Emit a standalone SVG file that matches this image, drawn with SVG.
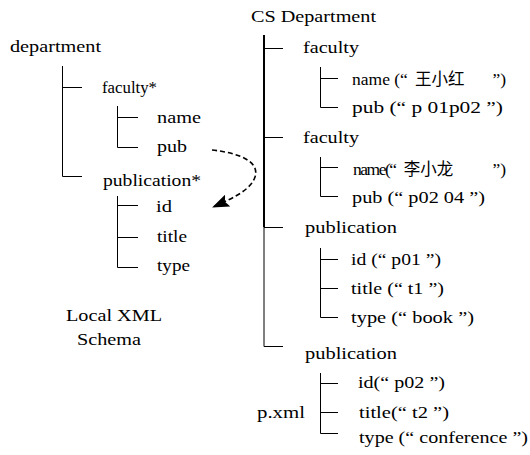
<svg xmlns="http://www.w3.org/2000/svg" width="530" height="455" viewBox="0 0 530 455">
<style>
  .t { font-family: "Liberation Serif", "Times New Roman", serif; font-size: 17.5px; fill: #000; }
  .cjk { font-family: "Noto Sans CJK SC", "Noto Sans", sans-serif; font-size: 16.5px; }
  .ln { stroke: #000; stroke-width: 1; fill: none; }
  .main { stroke: #000; stroke-width: 2; fill: none; }
  .dash { stroke: #000; stroke-width: 1.6; fill: none; stroke-dasharray: 5 3; }
</style>
<defs>
  <marker id="ah" markerWidth="17" markerHeight="13" refX="16" refY="6.5" orient="auto" markerUnits="userSpaceOnUse" viewBox="0 0 17 13">
    <path d="M0,0 L17,6.5 L0,13 L3,6.5 Z" fill="#000"/>
  </marker>
</defs>

<g id="connectors">
  <path class="ln" d="M62.5,66 V176.5 M62.5,87.5 H82 M62.5,176.5 H82"/>
  <path class="ln" d="M117.5,106 V147.5 M117.5,117.5 H138 M117.5,147.5 H138"/>
  <path class="ln" d="M117.5,196 V267.5 M117.5,205.5 H138 M117.5,237.5 H138 M117.5,267.5 H138"/>
  <path class="dash" d="M212,150 C240,153 260,162 255,177 C251,189 236,197 213,207" marker-end="url(#ah)"/>
  <path class="main" d="M264,35 V227"/>
  <path class="ln" d="M264,227 V346.5"/>
  <path class="ln" d="M264,48.5 H283 M264,137.5 H283 M264,227.5 H283 M264,346.5 H283"/>
  <path class="ln" d="M320.5,67 V107.5 M320.5,78.5 H338 M320.5,107.5 H338"/>
  <path class="ln" d="M320.5,157 V196.5 M320.5,167.5 H338 M320.5,196.5 H338"/>
  <path class="ln" d="M320.5,248 V317.5 M320.5,259.5 H338 M320.5,288.5 H338 M320.5,317.5 H338"/>
  <path class="ln" d="M320.5,373 V433.5 M320.5,383.5 H338 M320.5,412.5 H338 M320.5,433.5 H338"/>
</g>

<g id="schema">
  <g id="n-department"><text class="t" x="10" y="52" textLength="91" lengthAdjust="spacingAndGlyphs">department</text></g>
  <g id="n-faculty-s"><text class="t" x="102" y="93" textLength="55" lengthAdjust="spacingAndGlyphs">faculty*</text></g>
  <g id="n-name-s"><text class="t" x="157" y="123" textLength="44" lengthAdjust="spacingAndGlyphs">name</text></g>
  <g id="n-pub-s"><text class="t" x="157" y="152" textLength="30" lengthAdjust="spacingAndGlyphs">pub</text></g>
  <g id="n-publication-s"><text class="t" x="103" y="186" textLength="98" lengthAdjust="spacingAndGlyphs">publication*</text></g>
  <g id="n-id-s"><text class="t" x="156" y="212" textLength="16" lengthAdjust="spacingAndGlyphs">id</text></g>
  <g id="n-title-s"><text class="t" x="157" y="242" textLength="30" lengthAdjust="spacingAndGlyphs">title</text></g>
  <g id="n-type-s"><text class="t" x="157" y="271" textLength="33" lengthAdjust="spacingAndGlyphs">type</text></g>
  <g id="n-schema-label">
    <text class="t" x="66" y="321" textLength="96" lengthAdjust="spacingAndGlyphs">Local XML</text>
    <text class="t" x="77" y="345" textLength="64" lengthAdjust="spacingAndGlyphs">Schema</text>
  </g>
</g>

<g id="document">
  <g id="n-cs"><text class="t" x="251" y="22" textLength="125" lengthAdjust="spacingAndGlyphs">CS Department</text></g>
  <g id="n-faculty1"><text class="t" x="303" y="53" textLength="56" lengthAdjust="spacingAndGlyphs">faculty</text></g>
  <g id="n-name1"><text class="t" y="85"><tspan x="352">name (“</tspan><tspan class="cjk" x="415">王小红</tspan><tspan x="488">  ”)</tspan></text></g>
  <g id="n-pub1"><text class="t" x="352" y="113" textLength="151" lengthAdjust="spacingAndGlyphs">pub (“ p 01p02 ”)</text></g>
  <g id="n-faculty2"><text class="t" x="303" y="143" textLength="56" lengthAdjust="spacingAndGlyphs">faculty</text></g>
  <g id="n-name2"><text class="t" y="175"><tspan x="353" letter-spacing="-1.5">name(“</tspan><tspan class="cjk" x="400"> 李小龙</tspan><tspan x="488">  ”)</tspan></text></g>
  <g id="n-pub2"><text class="t" x="352" y="203" textLength="133" lengthAdjust="spacingAndGlyphs">pub (“ p02 04 ”)</text></g>
  <g id="n-pubn1"><text class="t" x="305" y="233" textLength="92" lengthAdjust="spacingAndGlyphs">publication</text></g>
  <g id="n-id1"><text class="t" x="351" y="265" textLength="90" lengthAdjust="spacingAndGlyphs">id (“ p01 ”)</text></g>
  <g id="n-title1"><text class="t" x="351" y="294" textLength="93" lengthAdjust="spacingAndGlyphs">title (“ t1 ”)</text></g>
  <g id="n-type1"><text class="t" x="351" y="323" textLength="123" lengthAdjust="spacingAndGlyphs">type (“ book ”)</text></g>
  <g id="n-pubn2"><text class="t" x="305" y="359" textLength="92" lengthAdjust="spacingAndGlyphs">publication</text></g>
  <g id="n-id2"><text class="t" x="358" y="388" textLength="87" lengthAdjust="spacingAndGlyphs">id(“ p02 ”)</text></g>
  <g id="n-title2"><text class="t" x="359" y="418" textLength="90" lengthAdjust="spacingAndGlyphs">title(“ t2 ”)</text></g>
  <g id="n-type2"><text class="t" x="359" y="443" textLength="169" lengthAdjust="spacingAndGlyphs">type (“ conference ”)</text></g>
  <g id="n-pxml"><text class="t" x="257" y="418" textLength="48" lengthAdjust="spacingAndGlyphs">p.xml</text></g>
</g>
</svg>
